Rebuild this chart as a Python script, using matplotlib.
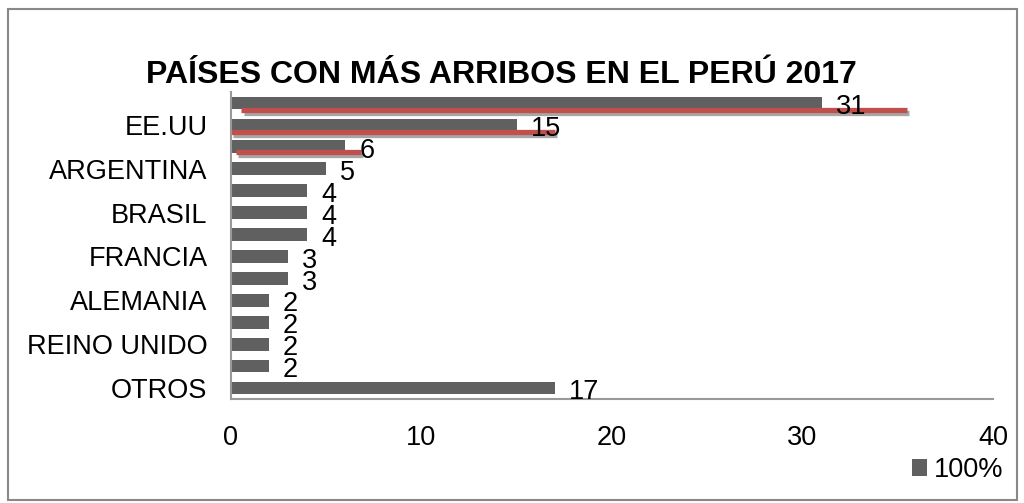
import matplotlib
matplotlib.use("Agg")
from matplotlib import pyplot as plt
from matplotlib.patches import Rectangle
import matplotlib.patheffects as pe

plt.rcParams['font.family'] = ['Liberation Sans', 'DejaVu Sans']

# datos (de arriba hacia abajo)
etiquetas = ["", "EE.UU", "", "ARGENTINA", "", "BRASIL", "", "FRANCIA",
             "", "ALEMANIA", "", "REINO UNIDO", "", "OTROS"]
valores = [31, 15, 6, 5, 4, 4, 4, 3, 3, 2, 2, 2, 2, 17]
serie = "100%"

# subrayados rojos a mano: (x inicio, x fin, fila)
subrayados = [(0.55, 35.5, 0.32), (0.0, 17.0, 1.32), (0.25, 6.8, 2.23)]

fig = plt.figure(figsize=(10.24, 5.03), dpi=100)
ax = fig.add_axes([231/1024, 1-399/503, (993-231)/1024, (399-92)/503])

filas = list(range(len(valores)))
ax.barh(filas, valores, height=0.58, color="#606060", label=serie)
ax.set_ylim(len(valores)-0.5, -0.5)
ax.set_xlim(0, 40)
ax.set_xticks([0, 10, 20, 30, 40])
ax.set_yticks(filas)
ax.set_yticklabels(etiquetas)
ax.tick_params(axis="y", length=0, pad=17, labelsize=19.5)
ax.tick_params(axis="x", length=0, pad=19, labelsize=19.5)

for s in ["top", "right"]:
    ax.spines[s].set_visible(False)
for s in ["left", "bottom"]:
    ax.spines[s].set_color("#999999")
    ax.spines[s].set_linewidth(1.5)

for f, v in zip(filas, valores):
    ax.annotate(str(v), (v, f), xytext=(10, -3), textcoords="offset points",
                ha="left", va="center", fontsize=19.5)

for x0, x1, f in subrayados:
    ax.plot([x0, x1], [f, f], color="#C0504D", lw=3.8, solid_capstyle="butt",
            path_effects=[pe.SimpleLineShadow(offset=(1.5, -2), alpha=0.35), pe.Normal()])

fig.text(501/1024, 1-75/503, "PAÍSES CON MÁS ARRIBOS EN EL PERÚ 2017",
         ha="center", va="center", fontsize=23, fontweight="bold")

fig.legend(loc="center right", bbox_to_anchor=(1014/1024, 1-470/503), frameon=False,
           fontsize=19.5, handlelength=0.55, handleheight=0.55, handletextpad=0.25,
           borderaxespad=0)

fig.patches.append(Rectangle((8/1024, 3/503), 1009/1024, 491/503, transform=fig.transFigure,
                             fill=False, edgecolor="#888888", lw=1.5))

fig.savefig("out.png", dpi=100)
